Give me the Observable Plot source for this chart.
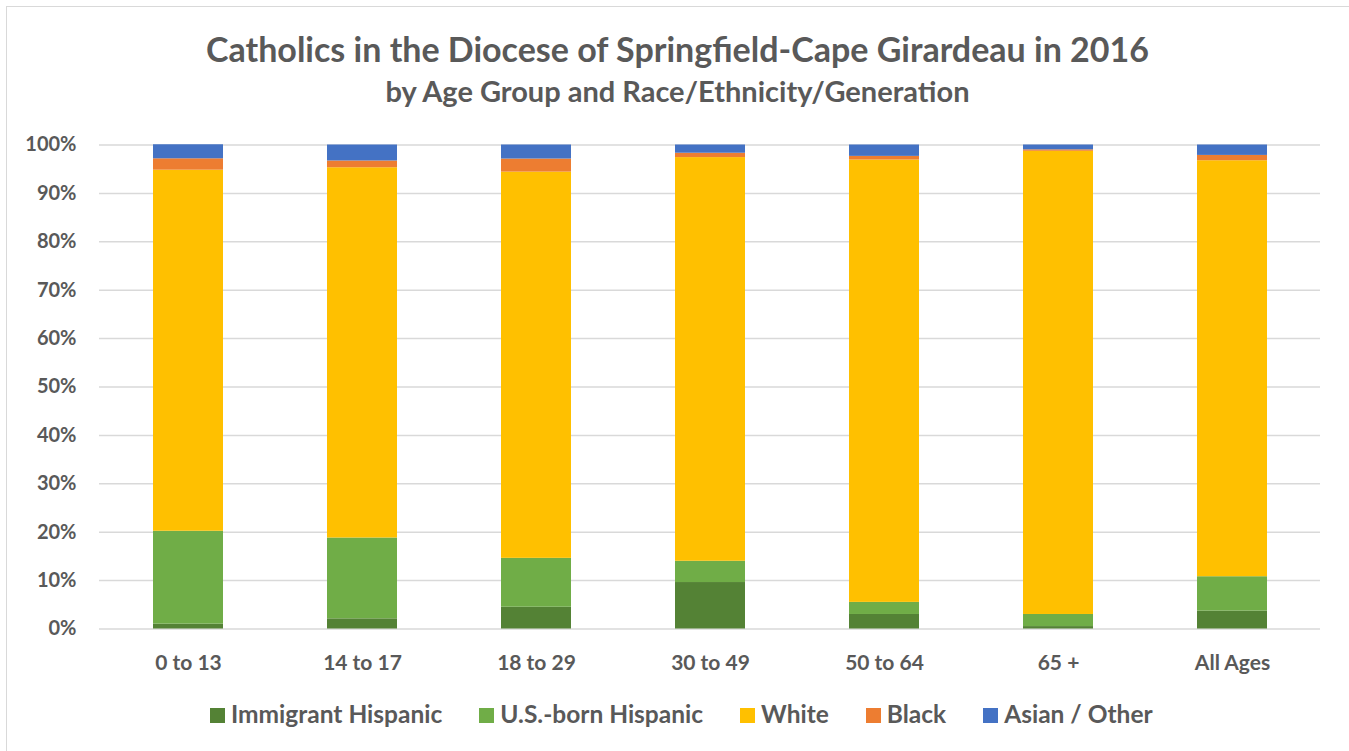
<!DOCTYPE html>
<html>
<head>
<meta charset="utf-8">
<script src="https://cdn.jsdelivr.net/npm/d3@7"></script>
<script src="https://cdn.jsdelivr.net/npm/@observablehq/plot@0.6"></script>
<style>
  html, body { margin: 0; padding: 0; background: #fff; }
  #wrap { position: relative; width: 1349px; height: 751px; overflow: hidden; font-family: Lato, "Open Sans", sans-serif; font-weight: bold; color: #595959; }
  #frame { position: absolute; left: 6px; top: 6px; width: 1360px; height: 760px; border: 1.5px solid #d9d9d9; box-sizing: border-box; }
  #chart { position: absolute; left: 0; top: 0; }
  .t { position: absolute; left: 0; width: 1355px; text-align: center; line-height: 1; white-space: nowrap; }
  #title { top: 32px; font-size: 34px; }
  #subtitle { top: 75.5px; font-size: 29px; }
  #legend { position: absolute; left: 210px; top: 702px; display: flex; align-items: baseline; gap: 37px; font-size: 24.5px; line-height: 1; white-space: nowrap; }
  .item { display: inline-flex; align-items: baseline; gap: 6px; }
  .sw { display: inline-block; width: 15px; height: 15px; }
</style>
</head>
<body>
<div id="wrap">
  <div id="frame"></div>
  <div id="chart"></div>
  <div class="t" id="title">Catholics in the Diocese of Springfield-Cape Girardeau in 2016</div>
  <div class="t" id="subtitle">by Age Group and Race/Ethnicity/Generation</div>
  <div id="legend"></div>
</div>
<script>
const ages = ["0 to 13", "14 to 17", "18 to 29", "30 to 49", "50 to 64", "65 +", "All Ages"];
const seriesNames = ["Immigrant Hispanic", "U.S.-born Hispanic", "White", "Black", "Asian / Other"];
const seriesColors = ["#548235", "#70AD47", "#FFC000", "#ED7D31", "#4472C4"];
const immigrantHispanic = [1.0, 2.1, 4.5, 9.6, 3.0, 0.5, 3.7];
const usBornHispanic = [19.2, 16.7, 10.1, 4.4, 2.5, 2.5, 7.1];
const white = [74.6, 76.5, 79.8, 83.4, 91.4, 95.7, 85.95];
const black = [2.35, 1.4, 2.7, 0.9, 0.75, 0.3, 1.1];
const asianOther = [2.9, 3.3, 2.9, 1.7, 2.35, 1.0, 2.15];
const yTicks = [0, 10, 20, 30, 40, 50, 60, 70, 80, 90, 100];

const seriesValues = [immigrantHispanic, usBornHispanic, white, black, asianOther];
const rows = [];
seriesNames.forEach((s, i) => {
  ages.forEach((a, j) => rows.push({ age: a, series: s, value: seriesValues[i][j] }));
});

const chart = Plot.plot({
  width: 1349,
  height: 751,
  marginLeft: 99,
  marginRight: 29,
  marginTop: 144.5,
  marginBottom: 122.5,
  style: { fontFamily: "Lato, 'Open Sans', sans-serif", fontSize: "20px", fontWeight: "bold", color: "#595959", background: "transparent" },
  x: { domain: ages, paddingInner: 0.6, paddingOuter: 0.3, label: null },
  y: { domain: [0, 100], label: null },
  color: { domain: seriesNames, range: seriesColors },
  marks: [
    Plot.gridY(yTicks, { stroke: "#d9d9d9", strokeOpacity: 1, strokeWidth: 1.5 }),
    Plot.barY(rows, { x: "age", y: "value", fill: "series", order: seriesNames }),
    Plot.axisX({ tickSize: 0, tickPadding: 26, fontSize: 21, label: null }),
    Plot.axisY(yTicks, { tickSize: 0, tickPadding: 23, fontSize: 20, tickFormat: d => d + "%", label: null })
  ]
});
document.getElementById("chart").appendChild(chart);

const legend = document.getElementById("legend");
seriesNames.forEach((s, i) => {
  const item = document.createElement("span");
  item.className = "item";
  const sw = document.createElement("span");
  sw.className = "sw";
  sw.style.background = seriesColors[i];
  const label = document.createElement("span");
  label.textContent = s;
  item.appendChild(sw);
  item.appendChild(label);
  legend.appendChild(item);
});
</script>
</body>
</html>
